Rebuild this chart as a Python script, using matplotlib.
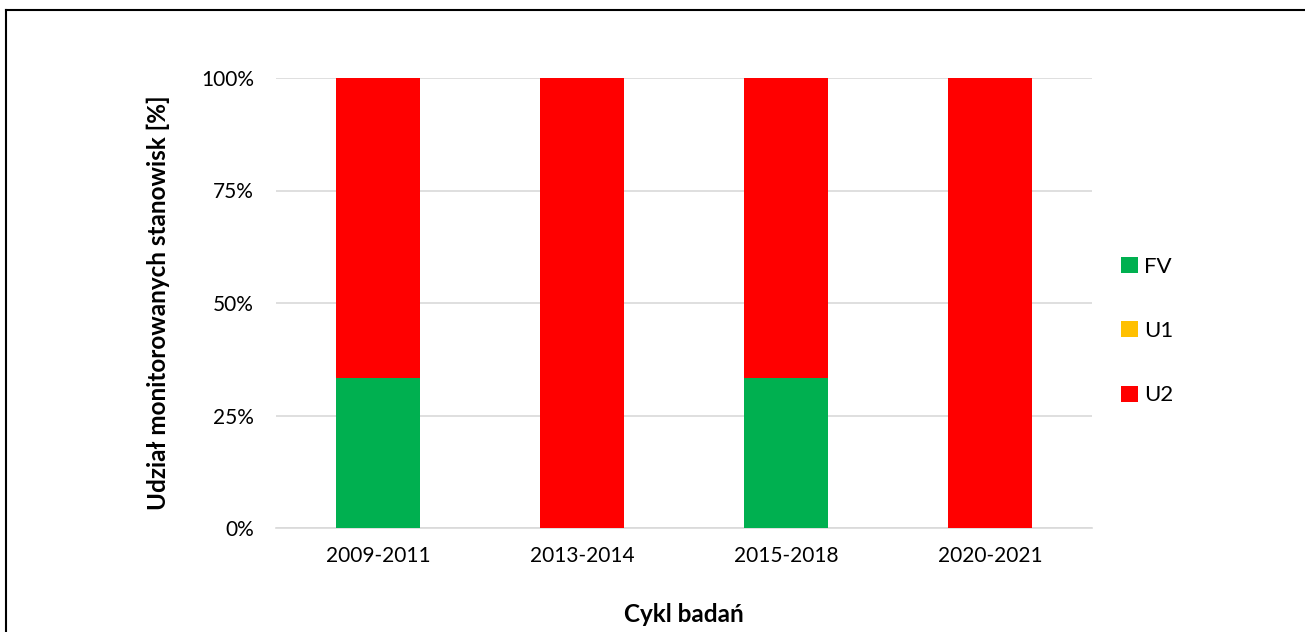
import matplotlib
matplotlib.use("Agg")
import matplotlib.pyplot as plt
from matplotlib.patches import Patch
from matplotlib.lines import Line2D
import numpy as np

categories = ["2009-2011", "2013-2014", "2015-2018", "2020-2021"]
fv = [33.33, 0, 33.33, 0]
u1 = [0, 0, 0, 0]
u2 = [66.67, 100, 66.67, 100]
series_names = ["FV", "U1", "U2"]
colors = ["#00b050", "#ffc000", "#ff0000"]

plt.rcParams['font.family'] = ['Lato', 'DejaVu Sans']

fig = plt.figure(figsize=(13.05, 6.32), dpi=100)
ax = fig.add_axes([276/1305, 104/632, 816/1305, 450/632])

x = np.arange(len(categories))
w = 0.41
bottom = np.zeros(len(categories))
for vals, name, c in zip([fv, u1, u2], series_names, colors):
    ax.bar(x, vals, w, bottom=bottom, color=c, label=name, zorder=3)
    bottom += np.array(vals)

ax.set_xlim(-0.5, len(categories) - 0.5)
ax.set_ylim(0, 100)
ax.set_yticks([0, 25, 50, 75, 100])
ax.set_yticklabels(["0%", "25%", "50%", "75%", "100%"])
ax.set_xticks(x)
ax.set_xticklabels(categories)
ax.tick_params(axis='both', length=0, labelsize=15, colors='black')
ax.tick_params(axis='y', pad=16)
ax.tick_params(axis='x', pad=13)
ax.grid(axis='y', color='#d9d9d9', linewidth=1.2, zorder=0)
for s in ['top', 'right', 'left']:
    ax.spines[s].set_visible(False)
ax.spines['bottom'].set_color('#d9d9d9')
ax.spines['bottom'].set_linewidth(1.2)

fig.text(158/1305, 1 - 303/632, "Udział monitorowanych stanowisk [%]", fontsize=17.5,
         fontweight='bold', rotation=90, ha='center', va='center')
fig.text(684/1305, 1 - 615/632, "Cykl badań", fontsize=17.5, fontweight='bold', ha='center', va='center')

handles = [Patch(facecolor=c, edgecolor='none') for c in colors]
fig.legend(handles, series_names, loc='center left', bbox_to_anchor=(1101/1305, 1 - 331/632),
           frameon=False, fontsize=16, handlelength=0.75, handleheight=0.75,
           handletextpad=0.3, labelspacing=2.0)

# outer border
fig.add_artist(Line2D([6/1305, 6/1305], [0, 1 - 10/632], transform=fig.transFigure, color='black', linewidth=1.5))
fig.add_artist(Line2D([6/1305, 1], [1 - 10/632, 1 - 10/632], transform=fig.transFigure, color='black', linewidth=1.5))

fig.savefig("out.png", dpi=100)
